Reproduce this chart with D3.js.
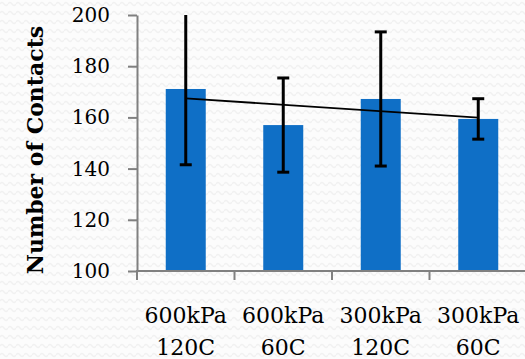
<!DOCTYPE html>
<html>
<head>
<meta charset="utf-8">
<script src="https://cdn.jsdelivr.net/npm/d3@7"></script>
<style>
  body { margin: 0; background: #fff; }
  svg { display: block; }
</style>
</head>
<body>
<div id="chart"></div>
<script>
// data
var categories = ['600kPa 120C', '600kPa 60C', '300kPa 120C', '300kPa 60C'];
var contacts = [171.1, 157.0, 167.2, 159.4];
var errors = [29.6, 18.4, 26.2, 7.9];
var yTicks = [100, 120, 140, 160, 180, 200];

var W = 525, H = 359;
var plotLeft = 137, plotTop = 15, plotBottom = 271, plotRight = 527;

var svg = d3.select('#chart').append('svg')
  .attr('width', W)
  .attr('height', H);

// faint wavy background texture
var defs = svg.append('defs');
var pat = defs.append('pattern')
  .attr('id', 'waves')
  .attr('patternUnits', 'userSpaceOnUse')
  .attr('width', 8)
  .attr('height', 9);
pat.append('path')
  .attr('d', 'M0,4 Q2,1 4,4 T8,4')
  .attr('fill', 'none')
  .attr('stroke', '#f1f1f1')
  .attr('stroke-width', 1.4);
svg.append('rect').attr('width', W).attr('height', H).attr('fill', '#fcfcfc');
svg.append('rect').attr('width', W).attr('height', H).attr('fill', 'url(#waves)');

defs.append('clipPath').attr('id', 'plot')
  .append('rect')
  .attr('x', plotLeft).attr('y', plotTop)
  .attr('width', W - plotLeft).attr('height', plotBottom - plotTop);

var x = d3.scaleBand()
  .domain(categories)
  .range([plotLeft, plotRight]);

var y = d3.scaleLinear()
  .domain([100, 200])
  .range([plotBottom, plotTop]);

var plot = svg.append('g').attr('clip-path', 'url(#plot)');

// bars
var barW = 40;
var cx = (d) => x(d) + x.bandwidth() / 2;
plot.selectAll('rect.bar')
  .data(categories)
  .enter()
  .append('rect')
  .attr('class', 'bar')
  .attr('x', (d) => cx(d) - barW / 2)
  .attr('y', (d, i) => y(contacts[i]))
  .attr('width', barW)
  .attr('height', (d, i) => y(100) - y(contacts[i]))
  .attr('fill', '#0f6fc6');

// error bars
var eb = plot.selectAll('g.err')
  .data(categories)
  .enter()
  .append('g')
  .attr('class', 'err')
  .attr('stroke', '#000')
  .attr('stroke-width', 3);

eb.append('line')
  .attr('x1', cx).attr('x2', cx)
  .attr('y1', (d, i) => y(contacts[i] + errors[i]))
  .attr('y2', (d, i) => y(contacts[i] - errors[i]));
eb.append('line')
  .attr('x1', (d) => cx(d) - 6).attr('x2', (d) => cx(d) + 6)
  .attr('y1', (d, i) => y(contacts[i] + errors[i]))
  .attr('y2', (d, i) => y(contacts[i] + errors[i]));
eb.append('line')
  .attr('x1', (d) => cx(d) - 6).attr('x2', (d) => cx(d) + 6)
  .attr('y1', (d, i) => y(contacts[i] - errors[i]))
  .attr('y2', (d, i) => y(contacts[i] - errors[i]));

// linear trendline through the bar values
var n = contacts.length;
var mx = (n - 1) / 2, my = d3.mean(contacts);
var slope = d3.sum(contacts, (v, i) => (i - mx) * (v - my)) / d3.sum(contacts, (v, i) => (i - mx) * (i - mx));
var trend = [0, n - 1].map((i) => [cx(categories[i]), y(my + slope * (i - mx))]);
plot.append('path')
  .attr('d', d3.line()(trend))
  .attr('fill', 'none')
  .attr('stroke', '#000')
  .attr('stroke-width', 1.8);

// y axis
var yAxis = svg.append('g')
  .attr('transform', 'translate(' + plotLeft + ',0)')
  .call(d3.axisLeft(y).tickValues(yTicks).tickSize(9).tickSizeOuter(0).tickPadding(18));
yAxis.select('.domain').attr('stroke', '#808080').attr('stroke-width', 2);
yAxis.selectAll('.tick line').attr('stroke', '#808080').attr('stroke-width', 2);
yAxis.selectAll('.tick text')
  .attr('font-family', '"DejaVu Serif", serif')
  .attr('font-size', '20px')
  .attr('fill', '#000');

// x axis
svg.append('line')
  .attr('x1', plotLeft - 1).attr('x2', W)
  .attr('y1', plotBottom).attr('y2', plotBottom)
  .attr('stroke', '#808080')
  .attr('stroke-width', 2);
svg.selectAll('line.xtick')
  .data(categories)
  .enter()
  .append('line')
  .attr('class', 'xtick')
  .attr('x1', (d) => x(d)).attr('x2', (d) => x(d))
  .attr('y1', plotBottom).attr('y2', plotBottom + 9)
  .attr('stroke', '#808080')
  .attr('stroke-width', 2);

var xl = svg.selectAll('text.xlab')
  .data(categories)
  .enter()
  .append('text')
  .attr('class', 'xlab')
  .attr('text-anchor', 'middle')
  .attr('font-family', '"DejaVu Serif", serif')
  .attr('font-size', '22px')
  .attr('fill', '#000');
xl.append('tspan')
  .attr('x', cx).attr('y', 323)
  .text((d) => d.split(' ')[0]);
xl.append('tspan')
  .attr('x', cx).attr('y', 355)
  .text((d) => d.split(' ')[1]);

// y title
svg.append('text')
  .attr('text-anchor', 'middle')
  .attr('transform', 'translate(43,' + 150 + ') rotate(-90)')
  .attr('font-family', '"DejaVu Serif", serif')
  .attr('font-weight', 'bold')
  .attr('font-size', '22px')
  .attr('fill', '#000')
  .text('Number of Contacts');
</script>
</body>
</html>
